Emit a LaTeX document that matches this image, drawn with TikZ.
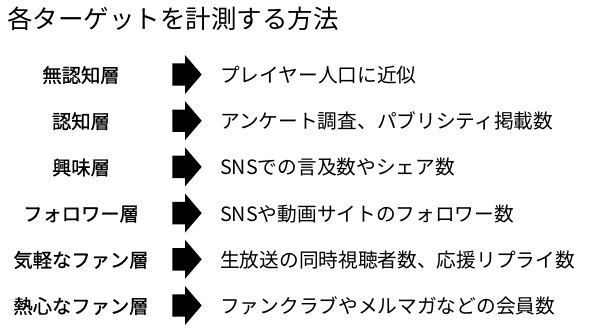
\documentclass[tikz,border=0pt]{standalone}
\usepackage{fontspec}
\setmainfont{Noto Sans CJK JP}
\newfontfamily\jpbold{Noto Sans CJK JP}[FakeBold=0.8]
\begin{document}
\begin{tikzpicture}[x=1pt,y=-1pt,
  lefttxt/.style={anchor=base,inner sep=0pt,font=\jpbold\fontsize{19.3}{22}\selectfont},
  righttxt/.style={anchor=base west,inner sep=0pt,font=\fontsize{19.7}{22}\selectfont},
  titletxt/.style={anchor=base west,inner sep=0pt,font=\fontsize{25.5}{30}\selectfont},
  blockarrow/.style={fill=black}]
\useasboundingbox[fill=white] (0,0) rectangle (600,335);
\node[titletxt] (title) at (7,28.8) {各ターゲットを計測する方法};
\foreach \i/\l/\r in {0/無認知層/プレイヤー人口に近似,
  1/認知層/アンケート調査、パブリシティ掲載数,
  2/興味層/SNSでの言及数やシェア数,
  3/フォロワー層/SNSや動画サイトのフォロワー数,
  4/気軽なファン層/生放送の同時視聴者数、応援リプライ数,
  5/熱心なファン層/ファンクラブやメルマガなどの会員数}{
  \pgfmathsetmacro{\c}{75+46.2*\i}
  \node[lefttxt] (L\i) at (81,\c+7.4) {\l};
  \node[righttxt] (R\i) at (220,\c+7.4) {\r};
  \coordinate (A\i) at (172.3,\c-0.5);
  \fill[blockarrow] (A\i) ++(0,-11.2) -- ++(12.7,0) -- ++(0,-8.3) -- ++(16.7,19.5)
     -- ++(-16.7,19.5) -- ++(0,-8.3) -- ++(-12.7,0) -- cycle;
}
\end{tikzpicture}
\end{document}
